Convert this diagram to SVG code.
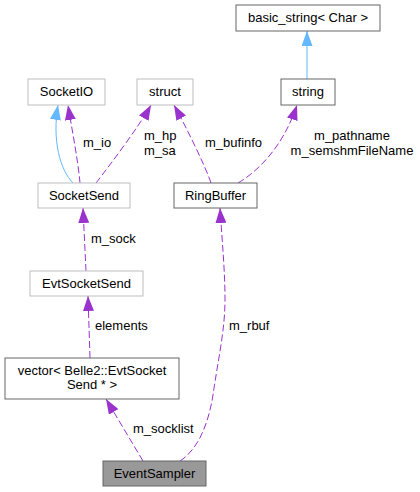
<svg xmlns="http://www.w3.org/2000/svg" width="420" height="492" viewBox="0 0 420 492">
<style>
text{font-family:"Liberation Sans",Arial,sans-serif;font-size:13px;fill:#000}
.n text{text-anchor:middle}
.dk{fill:#fff;stroke:#666;stroke-width:1}
.lt{fill:#fff;stroke:#bfbfbf;stroke-width:1}
.cur{fill:#999;stroke:#666;stroke-width:1}
.e{fill:none;stroke-width:1}
.u{stroke:#9a32cd;stroke-dasharray:7,3;marker-end:url(#ap)}
.b{stroke:#63b8ff;marker-end:url(#ab)}
.mid{text-anchor:middle}
</style>
<defs>
<marker id="ap" viewBox="0 0 15 11" refX="15" refY="5.5" markerWidth="15" markerHeight="11" markerUnits="userSpaceOnUse" orient="auto"><polygon points="0,0 15,5.5 0,11" fill="#9a32cd" stroke="none"/></marker>
<marker id="ab" viewBox="0 0 15 11" refX="15" refY="5.5" markerWidth="15" markerHeight="11" markerUnits="userSpaceOnUse" orient="auto"><polygon points="0,0 15,5.5 0,11" fill="#63b8ff" stroke="none"/></marker>
</defs>
<g id="edges">
<path class="e b" d="M307,79 L307,31"/>
<path class="e b" d="M73,183 C60,170 52,140 58,105"/>
<path class="e u" d="M80,183 C78,160 72,130 68,105"/>
<path class="e u" d="M96,183 C110,165 140,125 151,105"/>
<path class="e u" d="M211,183 C205,165 185,125 174,105"/>
<path class="e u" d="M238,183 C255,173 282,150 297,105"/>
<path class="e u" d="M86,271 L83,208"/>
<path class="e u" d="M90,358 L88,296"/>
<path class="e u" d="M143,461 L106,399"/>
<path class="e u" d="M180,461 C200,448 209,420 213,395 C218,360 225,330 225,300 C225,270 222,240 220,208"/>
<text x="83" y="147">m_io</text>
<text x="144" y="140">m_hp</text>
<text x="144" y="154.5">m_sa</text>
<text x="205" y="147">m_bufinfo</text>
<text class="mid" x="352" y="140">m_pathname</text>
<text class="mid" x="352" y="154.5">m_semshmFileName</text>
<text x="91" y="243">m_sock</text>
<text x="95" y="330">elements</text>
<text x="229" y="330">m_rbuf</text>
<text x="133" y="433">m_socklist</text>
</g>
<g id="basic_string" class="n"><rect class="dk" x="236" y="5" width="144" height="26"/><text x="308" y="22">basic_string&lt; Char &gt;</text></g>
<g id="string" class="n"><rect class="dk" x="281" y="79" width="54" height="26"/><text x="308" y="96">string</text></g>
<g id="SocketIO" class="n"><rect class="lt" x="28" y="79" width="77" height="26"/><text x="66.5" y="96">SocketIO</text></g>
<g id="struct" class="n"><rect class="lt" x="137" y="79" width="56" height="26"/><text x="165" y="96">struct</text></g>
<g id="SocketSend" class="n"><rect class="lt" x="38" y="183" width="92" height="25"/><text x="84" y="200">SocketSend</text></g>
<g id="RingBuffer" class="n"><rect class="dk" x="174" y="183" width="83" height="25"/><text x="215.5" y="200">RingBuffer</text></g>
<g id="EvtSocketSend" class="n"><rect class="lt" x="30" y="271" width="113" height="25"/><text x="86.5" y="288">EvtSocketSend</text></g>
<g id="vector" class="n"><rect class="dk" x="5" y="358" width="174" height="41"/><text x="92" y="374.5">vector&lt; Belle2::EvtSocket</text><text x="92" y="388.5">Send * &gt;</text></g>
<g id="EventSampler" class="n"><rect class="cur" x="103" y="461" width="103" height="25"/><text x="154.5" y="478">EventSampler</text></g>
</svg>
